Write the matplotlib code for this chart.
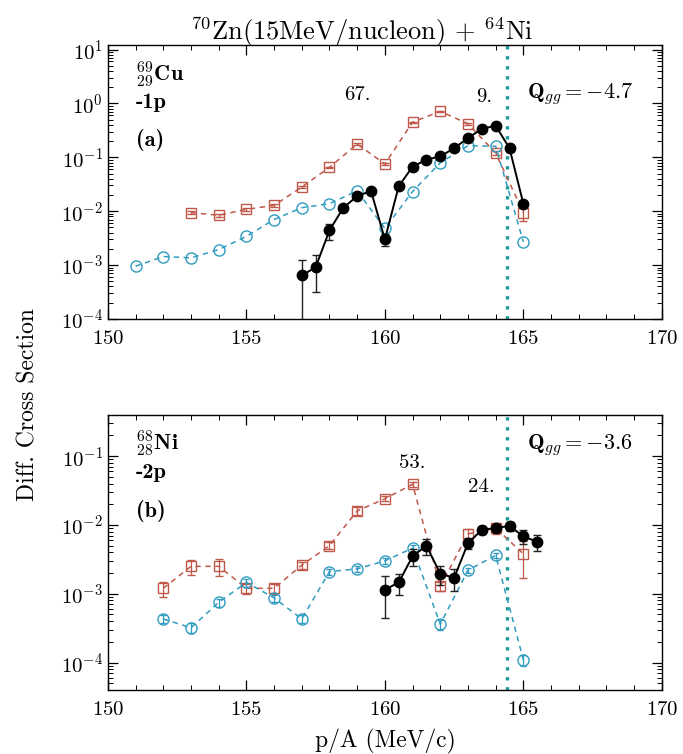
import matplotlib
matplotlib.use("Agg")
import matplotlib.pyplot as plt
from matplotlib.ticker import LogLocator, MultipleLocator

plt.rcParams['font.family'] = 'cmr10'
plt.rcParams['mathtext.fontset'] = 'cm'
plt.rcParams['axes.unicode_minus'] = False
plt.rcParams['axes.formatter.use_mathtext'] = True

# ---- panel (a): 69Cu, -1p ----
a_blue_x = [151, 152, 153, 154, 155, 156, 157, 158, 159, 160, 161, 162, 163, 164, 165]
a_blue_y = [9.5e-4, 1.44e-3, 1.36e-3, 1.94e-3, 3.4e-3, 7.0e-3, 0.0116, 0.0138, 0.0237,
            4.8e-3, 0.0231, 0.079, 0.164, 0.16, 2.7e-3]

a_red_x = [153, 154, 155, 156, 157, 158, 159, 160, 161, 162, 163, 164, 165]
a_red_y = [9.4e-3, 8.4e-3, 0.0108, 0.0128, 0.028, 0.065, 0.176, 0.075, 0.45, 0.71, 0.42, 0.12, 9.4e-3]
a_red_err = [5e-4, 5e-4, 6e-4, 6e-4, 1e-3, 2e-3, 5e-3, 3e-3, 1e-2, 2e-2, 2e-2, 1e-2, 2.8e-3]

a_black_x = [157.0, 157.5, 158.0, 158.5, 159.0, 159.5, 160.0, 160.5, 161.0, 161.5, 162.0,
             162.5, 163.0, 163.5, 164.0, 164.5, 165.0]
a_black_y = [6.4e-4, 9.1e-4, 4.4e-3, 0.0116, 0.019, 0.0237, 3.0e-3, 0.029, 0.067, 0.090,
             0.104, 0.147, 0.228, 0.336, 0.387, 0.147, 0.0138]
a_black_err = [6.2e-4, 6.0e-4, 1.5e-3, 1e-3, 1e-3, 1e-3, 7e-4, 2e-3, 3e-3, 3e-3,
               4e-3, 5e-3, 8e-3, 1e-2, 1e-2, 6e-3, 1.5e-3]

# ---- panel (b): 68Ni, -2p ----
b_blue_x = [152, 153, 154, 155, 156, 157, 158, 159, 160, 161, 162, 163, 164, 165]
b_blue_y = [4.3e-4, 3.2e-4, 7.5e-4, 1.46e-3, 8.7e-4, 4.3e-4, 2.1e-3, 2.3e-3, 3.0e-3,
            4.6e-3, 3.6e-4, 2.2e-3, 3.6e-3, 1.1e-4]
b_blue_err = [6e-5, 5e-5, 1e-4, 2e-4, 1e-4, 6e-5, 2e-4, 2e-4, 3e-4, 5e-4, 6e-5, 2e-4, 3e-4, 2e-5]

b_red_x = [152, 153, 154, 155, 156, 157, 158, 159, 160, 161, 162, 163, 164, 165]
b_red_y = [1.2e-3, 2.5e-3, 2.5e-3, 1.2e-3, 1.2e-3, 2.6e-3, 5.0e-3, 0.016, 0.024, 0.039,
           1.28e-3, 7.4e-3, 9.0e-3, 3.8e-3]
b_red_err = [3e-4, 6e-4, 7e-4, 2e-4, 2e-4, 3e-4, 6e-4, 2e-3, 2e-3, 3e-3, 2e-4, 1.2e-3, 1.5e-3, 2.1e-3]

b_black_x = [160.0, 160.5, 161.0, 161.5, 162.0, 162.5, 163.0, 163.5, 164.0, 164.5, 165.0, 165.5]
b_black_y = [1.14e-3, 1.46e-3, 3.5e-3, 5.0e-3, 1.95e-3, 1.7e-3, 5.4e-3, 8.5e-3, 9.0e-3,
             9.7e-3, 6.8e-3, 5.7e-3]
b_black_err = [7e-4, 5e-4, 1e-3, 1.3e-3, 6e-4, 6e-4, 1e-3, 1.2e-3, 1.2e-3, 1.5e-3, 1.5e-3, 1.5e-3]

q_line = 164.4

red = '#c0584a'
blue = '#2f9cc0'
teal = '#1d9a9a'

fig = plt.figure(figsize=(6.83, 7.54), dpi=100)
ax1 = fig.add_axes([0.158, 0.577, 0.811, 0.363])
ax2 = fig.add_axes([0.158, 0.085, 0.811, 0.365])


def draw_panel(ax, bx, by, berr, rx, ry, rerr, kx, ky, kerr):
    ax.errorbar(rx, ry, yerr=rerr, fmt='s', ls=(0, (3.5, 3)), lw=1.1, color=red,
                mfc='none', mec=red, ms=7, mew=1.0, ecolor=red, elinewidth=0.9, capsize=3, zorder=2)
    ax.errorbar(bx, by, yerr=berr, fmt='o', ls=(0, (3.5, 3)), lw=1.1, color=blue,
                mfc='none', mec=blue, ms=8, mew=1.0, ecolor=blue, elinewidth=0.9, capsize=2, zorder=3)
    ax.errorbar(kx, ky, yerr=kerr, fmt='o-', lw=1.4, color='black', ms=7.5,
                ecolor='#222222', elinewidth=1.0, capsize=3, zorder=4)
    ax.axvline(q_line, color=teal, ls=(0, (1.0, 2.0)), lw=2.4, zorder=1)
    ax.set_yscale('log')
    ax.set_xlim(150, 170)
    ax.xaxis.set_major_locator(MultipleLocator(5))
    ax.xaxis.set_minor_locator(MultipleLocator(1))
    ax.yaxis.set_major_locator(LogLocator(base=10, numticks=10))
    ax.yaxis.set_minor_locator(LogLocator(base=10, subs=(2, 3, 4, 5, 6, 7, 8, 9), numticks=20))
    ax.tick_params(which='both', direction='in', top=True, right=True, labelsize=15)
    ax.tick_params(axis='x', which='major', pad=8)
    ax.tick_params(which='major', length=7, width=0.9)
    ax.tick_params(which='minor', length=3.5, width=0.7)
    for s in ax.spines.values():
        s.set_linewidth(1.0)


draw_panel(ax1, a_blue_x, a_blue_y, None, a_red_x, a_red_y, a_red_err,
           a_black_x, a_black_y, a_black_err)
ax1.set_ylim(1e-4, 12)
ax1.text(0.05, 0.895, r'$^{69}_{29}\mathbf{Cu}$', transform=ax1.transAxes, fontsize=16, va='center')
ax1.text(0.05, 0.79, '-1p', transform=ax1.transAxes, fontsize=16, family='cmb10', va='center')
ax1.text(0.05, 0.655, '(a)', transform=ax1.transAxes, fontsize=16, family='cmb10', va='center')
ax1.text(0.756, 0.82, r'$\mathbf{Q}_{gg}=-4.7$', transform=ax1.transAxes, fontsize=16, va='center')
ax1.text(159.0, 1.4, '67.', fontsize=15, ha='center', va='center')
ax1.text(163.6, 1.3, '9.', fontsize=15, ha='center', va='center')

draw_panel(ax2, b_blue_x, b_blue_y, b_blue_err, b_red_x, b_red_y, b_red_err,
           b_black_x, b_black_y, b_black_err)
ax2.set_ylim(4e-5, 0.4)
ax2.text(0.05, 0.895, r'$^{68}_{28}\mathbf{Ni}$', transform=ax2.transAxes, fontsize=16, va='center')
ax2.text(0.05, 0.79, '-2p', transform=ax2.transAxes, fontsize=16, family='cmb10', va='center')
ax2.text(0.05, 0.65, '(b)', transform=ax2.transAxes, fontsize=16, family='cmb10', va='center')
ax2.text(0.756, 0.89, r'$\mathbf{Q}_{gg}=-3.6$', transform=ax2.transAxes, fontsize=16, va='center')
ax2.text(161.0, 0.08, '53.', fontsize=15, ha='center', va='center')
ax2.text(163.5, 0.035, '24.', fontsize=15, ha='center', va='center')

fig.text(0.564, 0.016, 'p/A (MeV/c)', fontsize=17, ha='center', va='center')
fig.text(0.529, 0.958, r'$^{70}$Zn(15MeV/nucleon) + $^{64}$Ni', fontsize=19, ha='center', va='center')
fig.text(0.041, 0.463, 'Diff. Cross Section', fontsize=17, rotation=90, ha='center', va='center')

plt.savefig('out.png', dpi=100)
